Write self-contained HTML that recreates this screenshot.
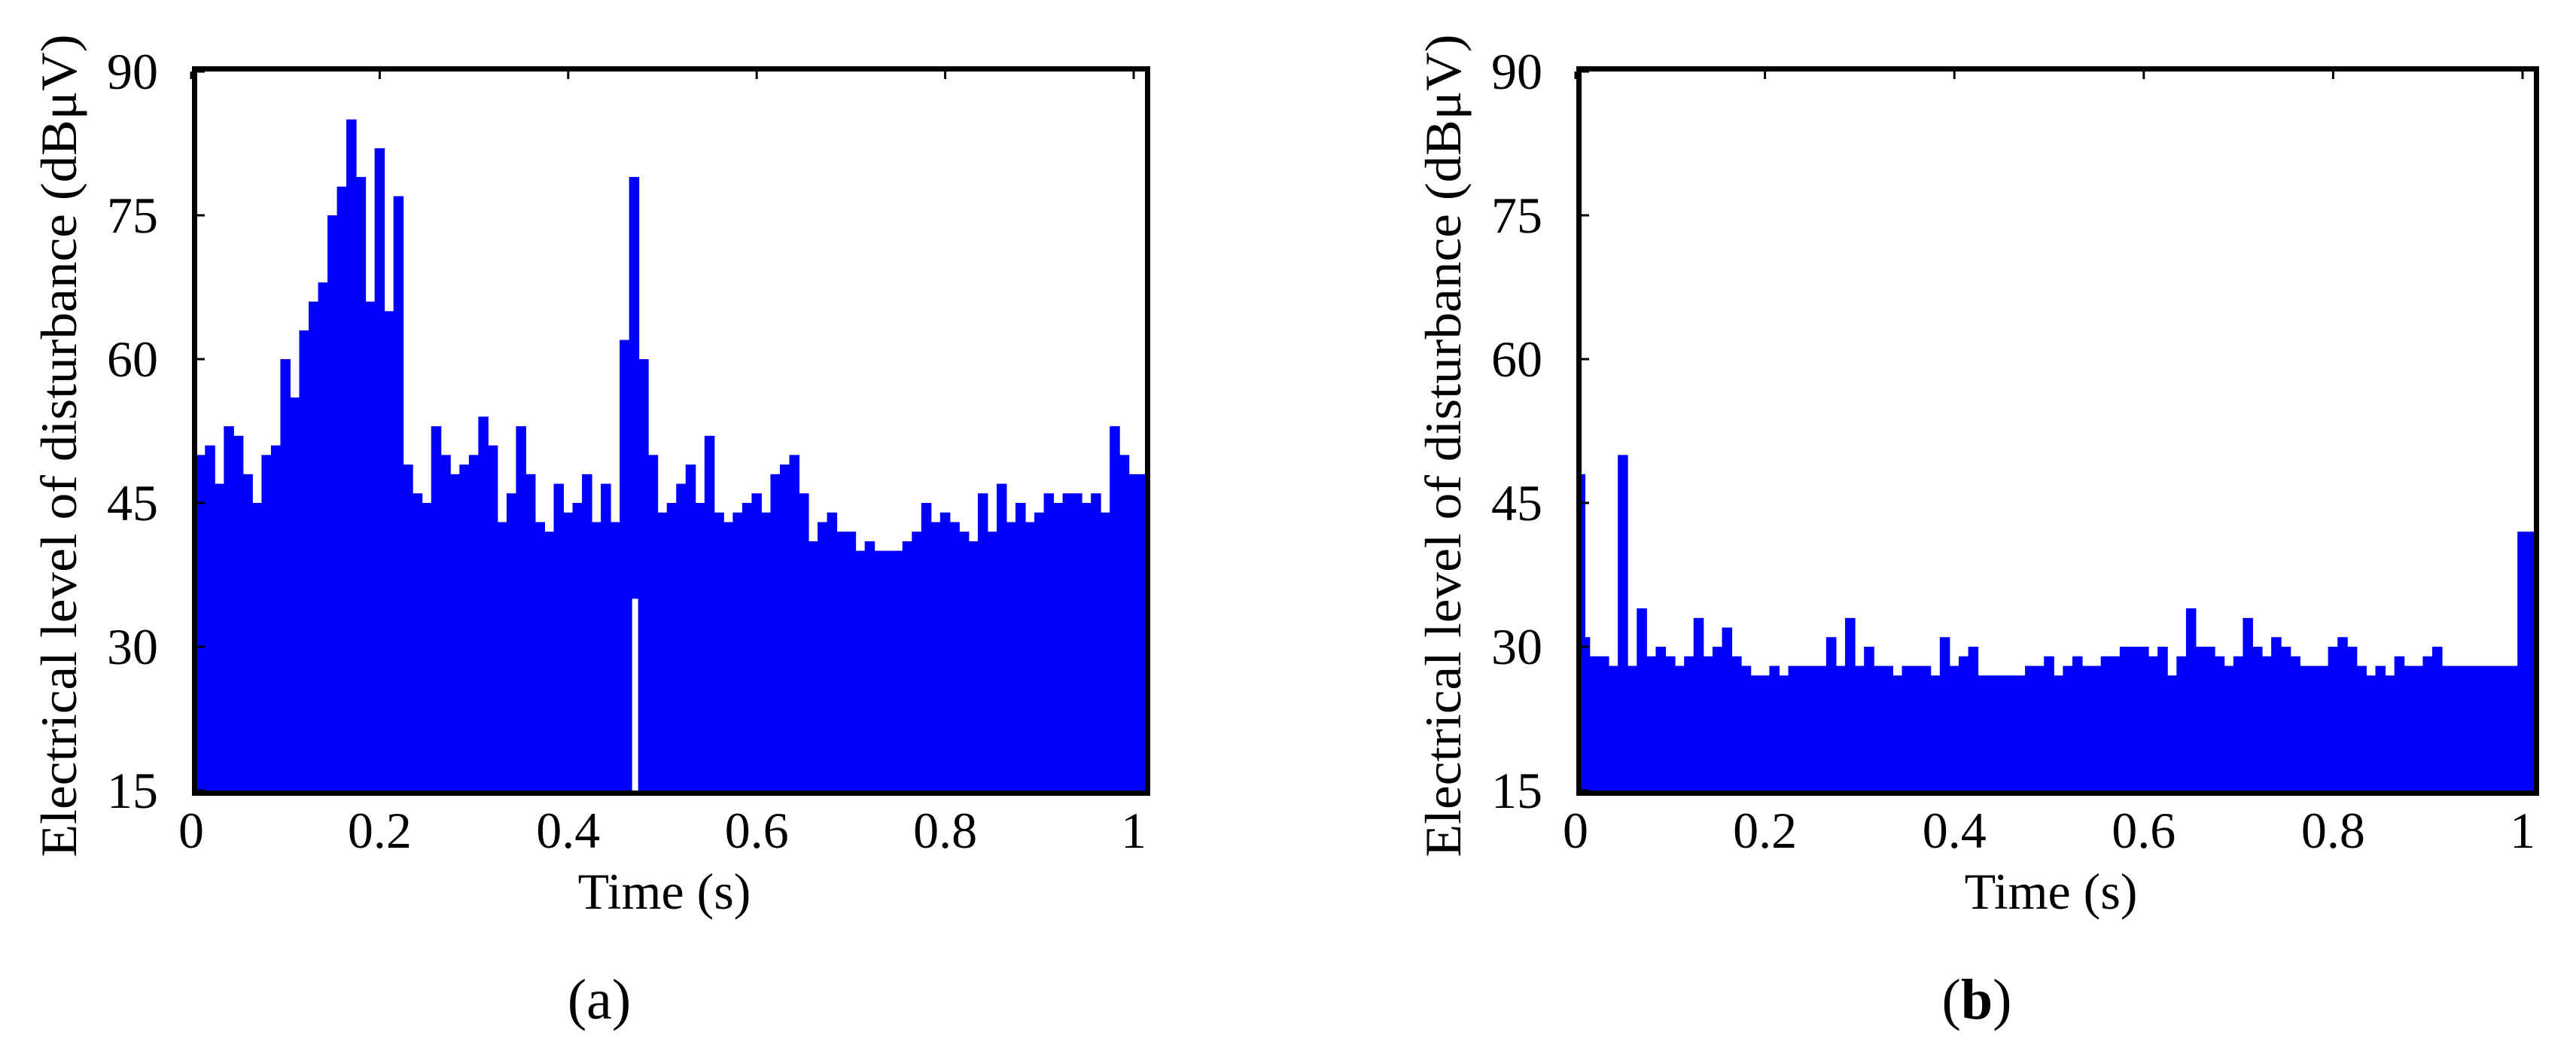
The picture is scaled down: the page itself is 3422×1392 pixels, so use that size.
<!DOCTYPE html>
<html><head><meta charset="utf-8"><style>
html,body{margin:0;padding:0;background:#fff;}
svg{display:block;}
text{font-family:"Liberation Serif",serif;fill:#000;}
</style></head>
<body>
<svg id="fig" width="3422" height="1392" viewBox="0 0 3422 1392" xmlns="http://www.w3.org/2000/svg"></svg>
<script>
const yTicks = [15, 30, 45, 60, 75, 90];
const xTicks = [0, 0.2, 0.4, 0.6, 0.8, 1];
const xTickLabels = ["0", "0.2", "0.4", "0.6", "0.8", "1"];
const seriesA = [46,50,51,47,53,52,48,45,50,51,
60,56,63,66,68,75,78,85,79,66,
82,65,77,49,46,45,53,50,48,49,
50,54,51,43,46,53,48,43,42,47,
44,45,48,43,47,43,62,79,60,50,
44,45,47,49,45,52,44,43,44,45,
46,44,48,49,50,46,41,43,44,42,
42,40,41,40,40,40,41,42,45,43,
44,43,42,41,46,42,47,43,45,43,
44,46,45,46,46,45,46,44,53,50,48];
const seriesB = [48,31,29,29,28,50,28,34,29,30,
29,28,29,33,29,30,32,29,28,27,
27,28,27,28,28,28,28,31,28,33,
28,30,28,28,27,28,28,28,27,31,
28,29,30,27,27,27,27,27,28,28,
29,27,28,29,28,28,29,29,30,30,
30,29,30,27,29,34,30,30,29,28,
29,33,30,29,31,30,29,28,28,28,
30,31,30,28,27,28,27,29,28,28,
29,30,28,28,28,28,28,28,28,28,42];
const floorA = 40;
const floorB = 26;

const NS = "http://www.w3.org/2000/svg";
const svg = document.getElementById("fig");
function mk(tag, attrs, parent) {
  const e = document.createElementNS(NS, tag);
  for (const k in attrs) e.setAttribute(k, attrs[k]);
  (parent || svg).appendChild(e);
  return e;
}

function drawPanel(cfg) {
  const g = mk("g", {});
  
  
  const x0 = cfg.x0, x1 = cfg.x1, yb = 1050, yt = 95;
  const d0 = x0 - 8, d1 = x1 - 15;
  const sx = v => d0 + v * (d1 - d0);
  const sy = v => yb - (v - 15) / 75 * (yb - yt);
  const n = cfg.data.length;
  const step = (d1 - d0) / (n - 1);
  const fl = mk("rect", {x: x0, y: sy(cfg.floor), width: x1 - x0, height: yb - sy(cfg.floor), fill: "#0000ff"}, g);
  
  
  cfg.data.forEach((v, i) => {
    const xc = sx(i / (n - 1));
    let a = xc - step / 2 - 0.5, b = xc + step / 2 + 0.5;
    if (i === n - 1) b = x1;
    a = Math.max(x0, a); b = Math.min(x1, b);
    if (i === 0) b = Math.max(b, x0 + 5);
    const r = mk("rect", {x: a, y: sy(v), width: b - a, height: yb - sy(v), fill: "#0000ff"}, g);
    
    
  });
  if (cfg.gap) {
    const gp = mk("rect", {x: sx(cfg.gap) - 4, y: sy(35), width: 8, height: yb - sy(35), fill: "#fff"}, g);
    
    
  }
  const fr = mk("rect", {x: x0 - 3.5, y: yt - 3.5, width: x1 - x0 + 7, height: yb - yt + 7, fill: "none", stroke: "#000", "stroke-width": 7}, g);
  
  
  yTicks.forEach(t => {
    const tk = mk("line", {x1: x0, x2: x0 + 10, y1: sy(t), y2: sy(t), stroke: "#000", "stroke-width": 3}, g);
    
    
    const tl = mk("text", {x: x0 - 52, y: sy(t) + 23, "text-anchor": "end", "font-size": 68}, g);
    tl.textContent = String(t);
    
    
  });
  xTicks.forEach((t, i) => {
    const tk = mk("line", {x1: sx(t), x2: sx(t), y1: yt, y2: yt + 10, stroke: "#000", "stroke-width": 3}, g);
    
    
    const tl = mk("text", {x: sx(t), y: 1126, "text-anchor": "middle", "font-size": 68}, g);
    tl.textContent = xTickLabels[i];
    
    
  });
  const xt = mk("text", {x: (x0 + x1) / 2 - 9, y: 1207, "text-anchor": "middle", "font-size": 68}, g);
  xt.textContent = "Time (s)";
  
  
  const yl = mk("text", {x: 0, y: 0, "text-anchor": "middle", "font-size": 68, textLength: 1093, lengthAdjust: "spacingAndGlyphs", transform: "translate(" + (cfg.ylabelX + 22) + ",592) rotate(-90)"}, g);
  yl.textContent = "Electrical level of disturbance (dBμV)";
  
  
  const cap = mk("text", {x: cfg.capX, y: 1353, "text-anchor": "middle", "font-size": 76}, g);
  cap.innerHTML = cfg.cap;
  
  
}

drawPanel({name: "panel-a", x0: 262, x1: 1521, data: seriesA, floor: floorA, gap: 0.471, ylabelX: 79, capX: 796, cap: "(a)"});
drawPanel({name: "panel-b", x0: 2101, x1: 3366, data: seriesB, floor: floorB, gap: null, ylabelX: 1918, capX: 2626, cap: '(<tspan font-weight="bold">b</tspan>)'});
</script>
</body></html>
